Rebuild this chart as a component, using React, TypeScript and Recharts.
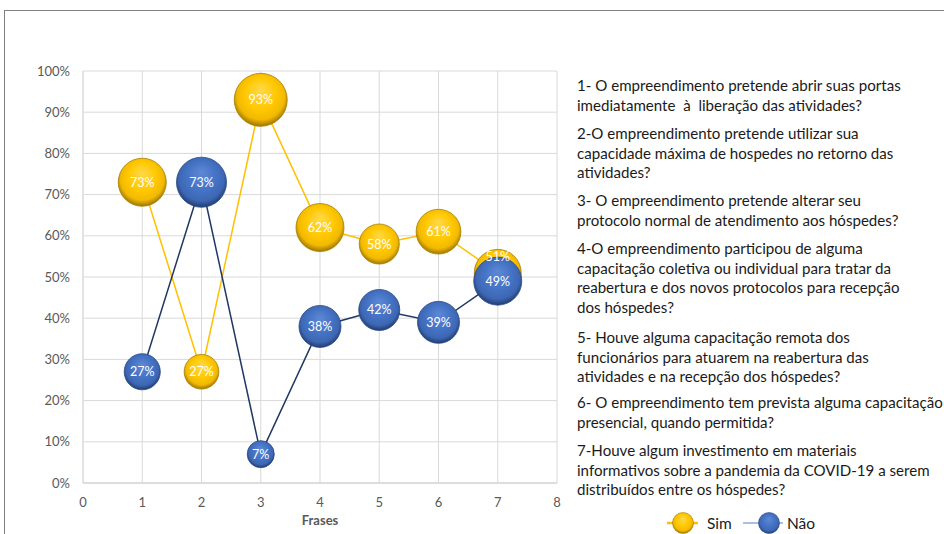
import React from 'react';
import { ScatterChart, Scatter, XAxis, YAxis, ZAxis, CartesianGrid, Label, Legend } from 'recharts';

const frases = [1, 2, 3, 4, 5, 6, 7];
const simValues = [0.73, 0.27, 0.93, 0.62, 0.58, 0.61, 0.51];
const naoValues = [0.27, 0.73, 0.07, 0.38, 0.42, 0.39, 0.49];
const simBubble = [23, 12, 28, 23, 16, 20, 22];
const naoBubble = [13, 25, 7.3, 17.6, 16.8, 17.6, 23];
const xTicks = [0, 1, 2, 3, 4, 5, 6, 7, 8];
const yTicks = [0, 0.1, 0.2, 0.3, 0.4, 0.5, 0.6, 0.7, 0.8, 0.9, 1];
const seriesNames = ['Sim', 'Não'];
const xAxisTitle = 'Frases';

const questions: string[][] = [
  ['1- O empreendimento pretende abrir suas portas', 'imediatamente  à  liberação das atividades?'],
  ['2-O empreendimento pretende utilizar sua', 'capacidade máxima de hospedes no retorno das', 'atividades?'],
  ['3- O empreendimento pretende alterar seu', 'protocolo normal de atendimento aos hóspedes?'],
  ['4-O empreendimento participou de alguma', 'capacitação coletiva ou individual para tratar da', 'reabertura e dos novos protocolos para recepção', 'dos hóspedes?'],
  ['5- Houve alguma capacitação remota dos', 'funcionários para atuarem na reabertura das', 'atividades e na recepção dos hóspedes?'],
  ['6- O empreendimento tem prevista alguma capacitação', 'presencial, quando permitida?'],
  ['7-Houve algum investimento em materiais', 'informativos sobre a pandemia da COVID-19 a serem', 'distribuídos entre os hóspedes?'],
];

const simData = frases.map((x, i) => ({ x, y: simValues[i], z: simBubble[i], i }));
const naoData = frases.map((x, i) => ({ x, y: naoValues[i], z: naoBubble[i], i }));

const FONT = 'Lato, "Open Sans", sans-serif';
const paraTops = [85, 133, 200, 248, 337, 402, 450];
const lineGap = 19.5;
const labelNudge: Record<string, number> = { 'sim-6': -16 };

const bubbleShape = (kind: 'sim' | 'nao') => (p: any) => {
  const r = Math.sqrt((p.size || 0) / Math.PI);
  return (
    <circle
      cx={p.cx}
      cy={p.cy}
      r={r}
      fill={`url(#grad-${kind})`}
      stroke={kind === 'sim' ? '#A98000' : '#2B4A86'}
      strokeWidth={0.8}
    />
  );
};

const labelShape = (kind: 'sim' | 'nao') => (p: any) => {
  const idx = p.payload?.i ?? 0;
  const dy = labelNudge[`${kind}-${idx}`] || 0;
  return (
    <text
      x={p.cx}
      y={p.cy + dy}
      textAnchor="middle"
      dominantBaseline="central"
      fill="#ffffff"
      fontFamily={FONT}
      fontSize={12.5}
    >
      {Math.round(p.payload.y * 100)}%
    </text>
  );
};

const emptyShape = () => <g />;

const LegendContent = () => (
  <svg width={200} height={30}>
    <line x1={35} y1={15} x2={66} y2={15} stroke="#FFC000" strokeWidth={2.5} />
    <circle cx={51} cy={15} r={10.5} fill="url(#grad-sim)" stroke="#A98000" strokeWidth={0.6} />
    <text x={75} y={15} dominantBaseline="central" fontFamily={FONT} fontSize={15.5} fill="#1a1a1a">{seriesNames[0]}</text>
    <line x1={111} y1={15} x2={151} y2={15} stroke="#8FAADC" strokeWidth={1.5} />
    <circle cx={137} cy={15} r={10.5} fill="url(#grad-nao)" stroke="#2B4A86" strokeWidth={0.6} />
    <text x={155} y={15} dominantBaseline="central" fontFamily={FONT} fontSize={15.5} fill="#1a1a1a">{seriesNames[1]}</text>
  </svg>
);

export default function App() {
  return (
    <div style={{ position: 'absolute', left: 0, top: 0, width: 944, height: 534, background: '#fff', overflow: 'hidden' }}>
      <svg width={0} height={0} style={{ position: 'absolute' }}>
        <defs>
          <radialGradient id="grad-sim" cx="50%" cy="45%" r="55%" fx="50%" fy="30%">
            <stop offset="0%" stopColor="#FFD84A" />
            <stop offset="55%" stopColor="#FFC800" />
            <stop offset="82%" stopColor="#F2B900" />
            <stop offset="100%" stopColor="#9C7600" />
          </radialGradient>
          <radialGradient id="grad-nao" cx="50%" cy="45%" r="55%" fx="50%" fy="30%">
            <stop offset="0%" stopColor="#5D88D6" />
            <stop offset="55%" stopColor="#4472C4" />
            <stop offset="82%" stopColor="#3D67B3" />
            <stop offset="100%" stopColor="#203C70" />
          </radialGradient>
        </defs>
      </svg>
      <div style={{ position: 'absolute', left: 4, top: 10, width: 960, height: 560, borderTop: '1px solid #808080', borderLeft: '1px solid #808080' }} />
      <div style={{ position: 'absolute', left: 0, top: 0 }}>
        <ScatterChart width={944} height={534} margin={{ top: 71, right: 387, bottom: 0, left: 33 }}>
          <CartesianGrid stroke="#D9D9D9" strokeWidth={1} />
          <XAxis
            type="number"
            dataKey="x"
            domain={[0, 8]}
            ticks={xTicks}
            interval={0}
            height={51}
            tickSize={0}
            tickMargin={15}
            axisLine={{ stroke: '#D9D9D9', strokeWidth: 1.5 }}
            tickLine={false}
            tick={{ fill: '#595959', fontSize: 13, fontFamily: FONT }}
          >
            <Label value={xAxisTitle} position="insideBottom" offset={9} fill="#595959" fontSize={13} fontWeight="bold" fontFamily={FONT} />
          </XAxis>
          <YAxis
            type="number"
            dataKey="y"
            domain={[0, 1]}
            ticks={yTicks}
            interval={0}
            width={50}
            tickSize={0}
            tickMargin={13}
            axisLine={{ stroke: '#D9D9D9', strokeWidth: 1 }}
            tickLine={false}
            tickFormatter={(v: number) => `${Math.round(v * 100)}%`}
            tick={{ fill: '#595959', fontSize: 13, fontFamily: FONT }}
          />
          <ZAxis type="number" dataKey="z" domain={[0, 28]} range={[0, 2206]} />
          <Legend
            layout="horizontal"
            verticalAlign="middle"
            align="center"
            content={<LegendContent />}
            wrapperStyle={{ position: 'absolute', left: 632, top: 508, width: 200, height: 30 }}
          />
          <Scatter name="Sim-line" data={simData} line={{ stroke: '#FFC000', strokeWidth: 1.5 }} shape={emptyShape} isAnimationActive={false} legendType="none" />
          <Scatter name="Não-line" data={naoData} line={{ stroke: '#203864', strokeWidth: 1.5 }} shape={emptyShape} isAnimationActive={false} legendType="none" />
          <Scatter name="Sim" data={simData} shape={bubbleShape('sim')} isAnimationActive={false} />
          <Scatter name="Não" data={naoData} shape={bubbleShape('nao')} isAnimationActive={false} />
          <Scatter name="Sim-labels" data={simData} shape={labelShape('sim')} isAnimationActive={false} legendType="none" />
          <Scatter name="Não-labels" data={naoData} shape={labelShape('nao')} isAnimationActive={false} legendType="none" />
        </ScatterChart>
      </div>
      <svg width={944} height={534} style={{ position: 'absolute', left: 0, top: 0, pointerEvents: 'none' }}>
        {questions.map((lines, pi) =>
          lines.map((ln, li) => (
            <text
              key={`${pi}-${li}`}
              x={577}
              y={paraTops[pi] + li * lineGap}
              dominantBaseline="central"
              fontFamily={FONT}
              fontSize={15.1}
              fill="#1a1a1a"
              style={{ whiteSpace: 'pre' }}
            >
              {ln}
            </text>
          ))
        )}
      </svg>
    </div>
  );
}
